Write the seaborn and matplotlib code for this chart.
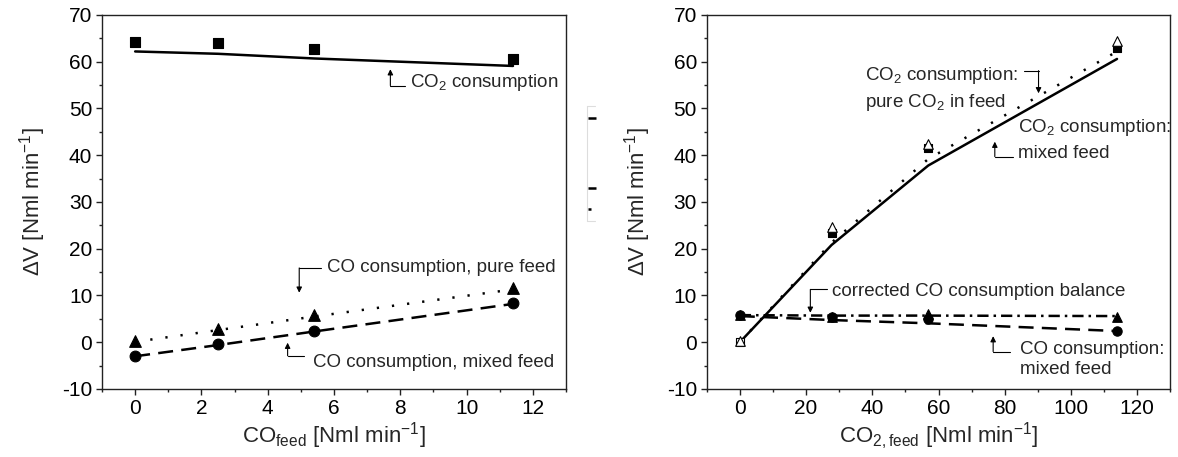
import matplotlib
matplotlib.use("Agg")
import matplotlib.pyplot as plt
from matplotlib.ticker import MultipleLocator
from matplotlib.lines import Line2D
import numpy as np
import pandas as pd
import seaborn as sns

# ---- Left panel: consumption vs. CO feed ----
co_feed = [0.0, 2.5, 5.4, 11.4]
co2_cons_meas = [64.3, 64.1, 62.7, 60.6]
co2_cons_model = [62.2, 61.7, 60.7, 59.1]
co_pure_meas = [0.3, 2.8, 5.8, 11.7]
co_pure_model = [0.1, 2.6, 5.5, 11.3]
co_mixed_meas = [-2.9, -0.4, 2.5, 8.3]
co_mixed_model = [-3.0, -0.6, 2.3, 8.2]

# ---- Right panel: consumption vs. CO2 feed ----
co2_feed = [0.0, 27.7, 56.9, 113.9]
co2_pure_meas = [0.3, 24.6, 42.4, 64.5]
co2_pure_model = [0.0, 21.3, 39.2, 62.2]
co2_mixed_meas = [0.0, 23.3, 41.5, 62.9]
co2_mixed_model = [0.0, 20.8, 37.8, 60.6]
co_mixed_meas_r = [5.8, 5.3, 4.9, 2.4]
co_mixed_model_r = [5.6, 4.75, 4.05, 2.4]
co_corr_meas = [5.8, 5.4, 6.0, 5.5]
co_corr_model = [5.8, 5.7, 5.7, 5.6]

sns.set_theme(style="ticks")
plt.rcParams["font.family"] = ["Liberation Sans", "DejaVu Sans"]
plt.rcParams["mathtext.fontset"] = "custom"
plt.rcParams["mathtext.rm"] = "Liberation Sans"
plt.rcParams["mathtext.it"] = "Liberation Sans:italic"
plt.rcParams["mathtext.bf"] = "Liberation Sans:bold"
plt.rcParams["axes.unicode_minus"] = False

TICK_FS = 15
LABEL_FS = 16
NOTE_FS = 13.5

fig = plt.figure(figsize=(11.78, 4.57), dpi=100)
ax1 = fig.add_axes([0.0866, 0.1488, 0.3939, 0.8184])
ax2 = fig.add_axes([0.5999, 0.1488, 0.3936, 0.8184])


def style_axes(ax, xlim, xmajor, xminor):
    ax.set_xlim(*xlim)
    ax.set_ylim(-10, 70)
    ax.xaxis.set_major_locator(MultipleLocator(xmajor))
    ax.xaxis.set_minor_locator(MultipleLocator(xminor))
    ax.yaxis.set_major_locator(MultipleLocator(10))
    ax.yaxis.set_minor_locator(MultipleLocator(5))
    for sp in ax.spines.values():
        sp.set_visible(True)
        sp.set_color("#222222")
        sp.set_linewidth(1.0)
    ax.tick_params(which="major", direction="out", length=4, width=1.0,
                   colors="#222222", labelsize=TICK_FS, labelcolor="black",
                   top=False, right=False, pad=3)
    ax.tick_params(which="minor", direction="out", length=2.5, width=1.0,
                   colors="#222222", top=False, right=False)
    ax.grid(False)
    ax.set_facecolor("white")


def line(ax, x, y, ls, lw=1.8):
    sns.lineplot(x=x, y=y, ax=ax, color="black", lw=lw, linestyle=ls,
                 sort=False, legend=False)


def points(ax, x, y, marker, s, face="black"):
    sns.scatterplot(x=x, y=y, ax=ax, marker=marker, s=s, color=face,
                    edgecolor="black", linewidth=0.8, legend=False, zorder=3)


def callout(ax, path):
    (x0, y0), (xc, yc), (xt, yt) = path
    ax.plot([x0, xc], [y0, yc], color="black", lw=0.8)
    ax.annotate("", xy=(xt, yt), xytext=(xc, yc),
                arrowprops=dict(arrowstyle="-|>", color="black", lw=0.8,
                                mutation_scale=8, shrinkA=0, shrinkB=0))


DASHED = (0, (6, 3.3))
DOTTED = (0, (0.9, 5.2))
DASHDOT = (0, (4.5, 2, 1, 2))

# ---- left panel ----
style_axes(ax1, (-1, 13), 2, 1)
line(ax1, co_feed, co2_cons_model, "-")
line(ax1, co_feed, co_pure_model, DOTTED)
line(ax1, co_feed, co_mixed_model, DASHED)
points(ax1, co_feed, co2_cons_meas, "s", 60)
points(ax1, co_feed, co_pure_meas, "^", 70)
points(ax1, co_feed, co_mixed_meas, "o", 60)

ax1.text(8.3, 55.5, "CO$_2$ consumption", fontsize=NOTE_FS, va="center")
callout(ax1, [(8.15, 54.9), (7.7, 54.9), (7.7, 58.4)])
ax1.text(5.8, 15.9, "CO consumption, pure feed", fontsize=NOTE_FS, va="center")
callout(ax1, [(5.6, 15.9), (4.95, 15.9), (4.95, 10.6)])
ax1.text(5.37, -4.4, "CO consumption, mixed feed", fontsize=NOTE_FS, va="center")
callout(ax1, [(5.1, -2.9), (4.6, -2.9), (4.6, -0.1)])

ax1.set_xlabel("CO$_{\\mathrm{feed}}$ [Nml min$^{-1}$]", fontsize=LABEL_FS, labelpad=2)
ax1.set_ylabel("ΔV [Nml min$^{-1}$]", fontsize=LABEL_FS, labelpad=10)

# ---- right panel ----
style_axes(ax2, (-10, 130), 20, 10)
line(ax2, co2_feed, co2_mixed_model, "-")
line(ax2, co2_feed, co2_pure_model, DOTTED)
line(ax2, co2_feed, co_mixed_model_r, DASHED)
line(ax2, co2_feed, co_corr_model, DASHDOT)

feed = np.array(co2_feed)
mixed = np.array(co2_mixed_meas)
has_feed = feed > 0
points(ax2, feed[has_feed], mixed[has_feed], "s", 38)
points(ax2, feed[~has_feed], mixed[~has_feed], "s", 38, face="white")
points(ax2, co2_feed, co2_pure_meas, "^", 48, face="white")
points(ax2, co2_feed, co_corr_meas, "^", 48)
points(ax2, co2_feed, co_mixed_meas_r, "o", 45)

ax2.text(37.7, 56.95, "CO$_2$ consumption:", fontsize=NOTE_FS, va="center")
ax2.text(37.7, 51.2, "pure CO$_2$ in feed", fontsize=NOTE_FS, va="center")
callout(ax2, [(85.9, 58.1), (90.2, 58.1), (90.2, 53.25)])
ax2.text(83.9, 46.0, "CO$_2$ consumption:", fontsize=NOTE_FS, va="center")
ax2.text(83.9, 40.4, "mixed feed", fontsize=NOTE_FS, va="center")
callout(ax2, [(82.4, 39.7), (77.0, 39.7), (77.0, 42.9)])
ax2.text(27.7, 10.8, "corrected CO consumption balance", fontsize=NOTE_FS, va="center")
callout(ax2, [(26.2, 11.3), (21.3, 11.3), (21.3, 6.3)])
ax2.text(84.5, -1.5, "CO consumption:", fontsize=NOTE_FS, va="center")
ax2.text(84.5, -5.9, "mixed feed", fontsize=NOTE_FS, va="center")
callout(ax2, [(81.5, -2.0), (76.5, -2.0), (76.5, 1.3)])

ax2.set_xlabel("CO$_{2\\mathrm{,feed}}$ [Nml min$^{-1}$]", fontsize=LABEL_FS, labelpad=2)
ax2.set_ylabel("ΔV [Nml min$^{-1}$]", fontsize=LABEL_FS, labelpad=10)

# small leftover legend key between the panels
W, H = 1178.0, 457.0
def fx(px):
    return px / W
def fy(py):
    return 1 - py / H
frame = dict(color="#dddddd", lw=0.8, transform=fig.transFigure)
fig.add_artist(Line2D([fx(586.7), fx(586.7)], [fy(106), fy(221)], **frame))
fig.add_artist(Line2D([fx(586.7), fx(595)], [fy(106), fy(106)], **frame))
fig.add_artist(Line2D([fx(586.7), fx(595)], [fy(221), fy(221)], **frame))
key = dict(color="black", lw=1.8, transform=fig.transFigure, solid_capstyle="butt")
fig.add_artist(Line2D([fx(587.5), fx(595.5)], [fy(118.3), fy(118.3)], **key))
fig.add_artist(Line2D([fx(587.5), fx(595.5)], [fy(188.3), fy(188.3)], **key))
fig.add_artist(Line2D([fx(587.5), fx(590.5)], [fy(209), fy(209)], **key))

fig.savefig("out.png", dpi=100, facecolor="white")
